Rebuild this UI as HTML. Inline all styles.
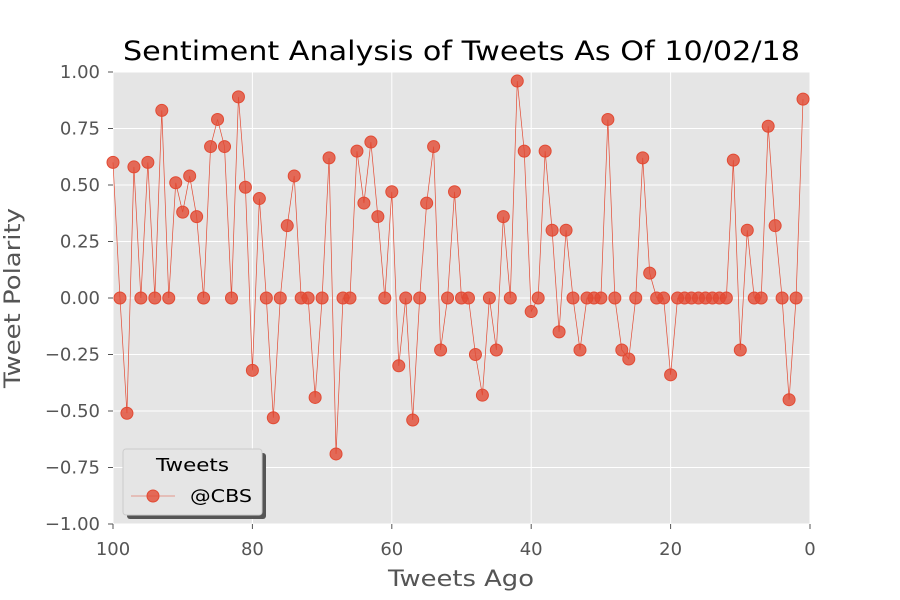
<!DOCTYPE html>
<html><head><meta charset="utf-8"><style>
body{margin:0;background:#fff;}
svg{display:block;font-family:"DejaVu Sans","Liberation Sans",sans-serif;}
</style></head><body>
<svg id="chart" width="900" height="600" xmlns="http://www.w3.org/2000/svg">
<rect x="113" y="72" width="697" height="452" fill="#e5e5e5"/>
<g id="grid"></g>
<g id="ticks"></g>
<text x="123" y="60" font-size="27" textLength="677" lengthAdjust="spacingAndGlyphs" fill="#000">Sentiment Analysis of Tweets As Of 10/02/18</text>
<text x="388" y="586" font-size="22" textLength="146" lengthAdjust="spacingAndGlyphs" fill="#555">Tweets Ago</text>
<text transform="translate(20,388) rotate(-90)" font-size="22" textLength="180" lengthAdjust="spacingAndGlyphs" fill="#555">Tweet Polarity</text>
<g id="series"></g>
<g>
<rect x="127" y="453" width="139" height="66" rx="3" fill="#555"/>
<rect x="123" y="449" width="139" height="66" rx="3" fill="#e5e5e5" stroke="#ccc"/>
<text x="156" y="471" font-size="18" textLength="73" lengthAdjust="spacingAndGlyphs" fill="#000">Tweets</text>
<g>
<line x1="131" y1="496" x2="175" y2="496" stroke="#e24a33" stroke-width="0.6"/>
<circle cx="153" cy="496" r="6" fill="#e24a33" fill-opacity="0.8" stroke="#e24a33"/>
<text x="190" y="502" font-size="18" textLength="62" lengthAdjust="spacingAndGlyphs" fill="#000">@CBS</text>
</g>
</g>
</svg>
<script>
const tweetsAgo = [100,99,98,97,96,95,94,93,92,91,90,89,88,87,86,85,84,83,82,81,80,79,78,77,76,75,74,73,72,71,70,69,68,67,66,65,64,63,62,61,60,59,58,57,56,55,54,53,52,51,50,49,48,47,46,45,44,43,42,41,40,39,38,37,36,35,34,33,32,31,30,29,28,27,26,25,24,23,22,21,20,19,18,17,16,15,14,13,12,11,10,9,8,7,6,5,4,3,2,1];
const polarity = [0.60,0,-0.51,0.58,0,0.60,0,0.83,0,0.51,0.38,0.54,0.36,0,0.67,0.79,0.67,0,0.89,0.49,-0.32,0.44,0,-0.53,0,0.32,0.54,0,0,-0.44,0,0.62,-0.69,0,0,0.65,0.42,0.69,0.36,0,0.47,-0.30,0,-0.54,0,0.42,0.67,-0.23,0,0.47,0,0,-0.25,-0.43,0,-0.23,0.36,0,0.96,0.65,-0.06,0,0.65,0.30,-0.15,0.30,0,-0.23,0,0,0,0.79,0,-0.23,-0.27,0,0.62,0.11,0,0,-0.34,0,0,0,0,0,0,0,0,0.61,-0.23,0.30,0,0,0.76,0.32,0,-0.45,0,0.88];
const xTicks = [100,80,60,40,20,0];
const yTicks = [1.00,0.75,0.50,0.25,0.00,-0.25,-0.50,-0.75,-1.00];
const NS="http://www.w3.org/2000/svg";
const xs = v => 113 + (100 - v) * 6.97;
const ys = v => 298 - v * 226;
function mk(tag, attrs, parent){const e=document.createElementNS(NS,tag);for(const k in attrs)e.setAttribute(k,attrs[k]);parent.appendChild(e);return e;}
const grid=document.getElementById('grid'), ticks=document.getElementById('ticks'), series=document.getElementById('series');
xTicks.forEach(t=>{
  const g=mk('line',{x1:xs(t),x2:xs(t),y1:72,y2:524,stroke:'#fff','stroke-width':1},grid);
  
  
  mk('line',{x1:xs(t),x2:xs(t),y1:524,y2:529,stroke:'#555'},ticks);
  const l=mk('text',{x:xs(t),y:555,'font-size':18,'text-anchor':'middle',fill:'#555'},ticks);
  l.textContent=t;
  
  
});
yTicks.forEach(t=>{
  const g=mk('line',{x1:113,x2:810,y1:ys(t),y2:ys(t),stroke:'#fff','stroke-width':1},grid);
  
  
  mk('line',{x1:108,x2:113,y1:ys(t),y2:ys(t),stroke:'#555'},ticks);
  const l=mk('text',{x:100,y:ys(t)+6,'font-size':18,'text-anchor':'end',fill:'#555'},ticks);
  l.textContent=(t<0?'\u2212':'')+Math.abs(t).toFixed(2);
  
  
});
const line=mk('polyline',{points:tweetsAgo.map((x,i)=>xs(x)+','+ys(polarity[i])).join(' '),fill:'none',stroke:'#e24a33','stroke-width':0.7},series);


tweetsAgo.forEach((x,i)=>{
  const c=mk('circle',{cx:xs(x),cy:ys(polarity[i]),r:6,fill:'#e24a33','fill-opacity':0.8,stroke:'#e24a33','stroke-width':1},series);
  
  
});
</script>
</body></html>
